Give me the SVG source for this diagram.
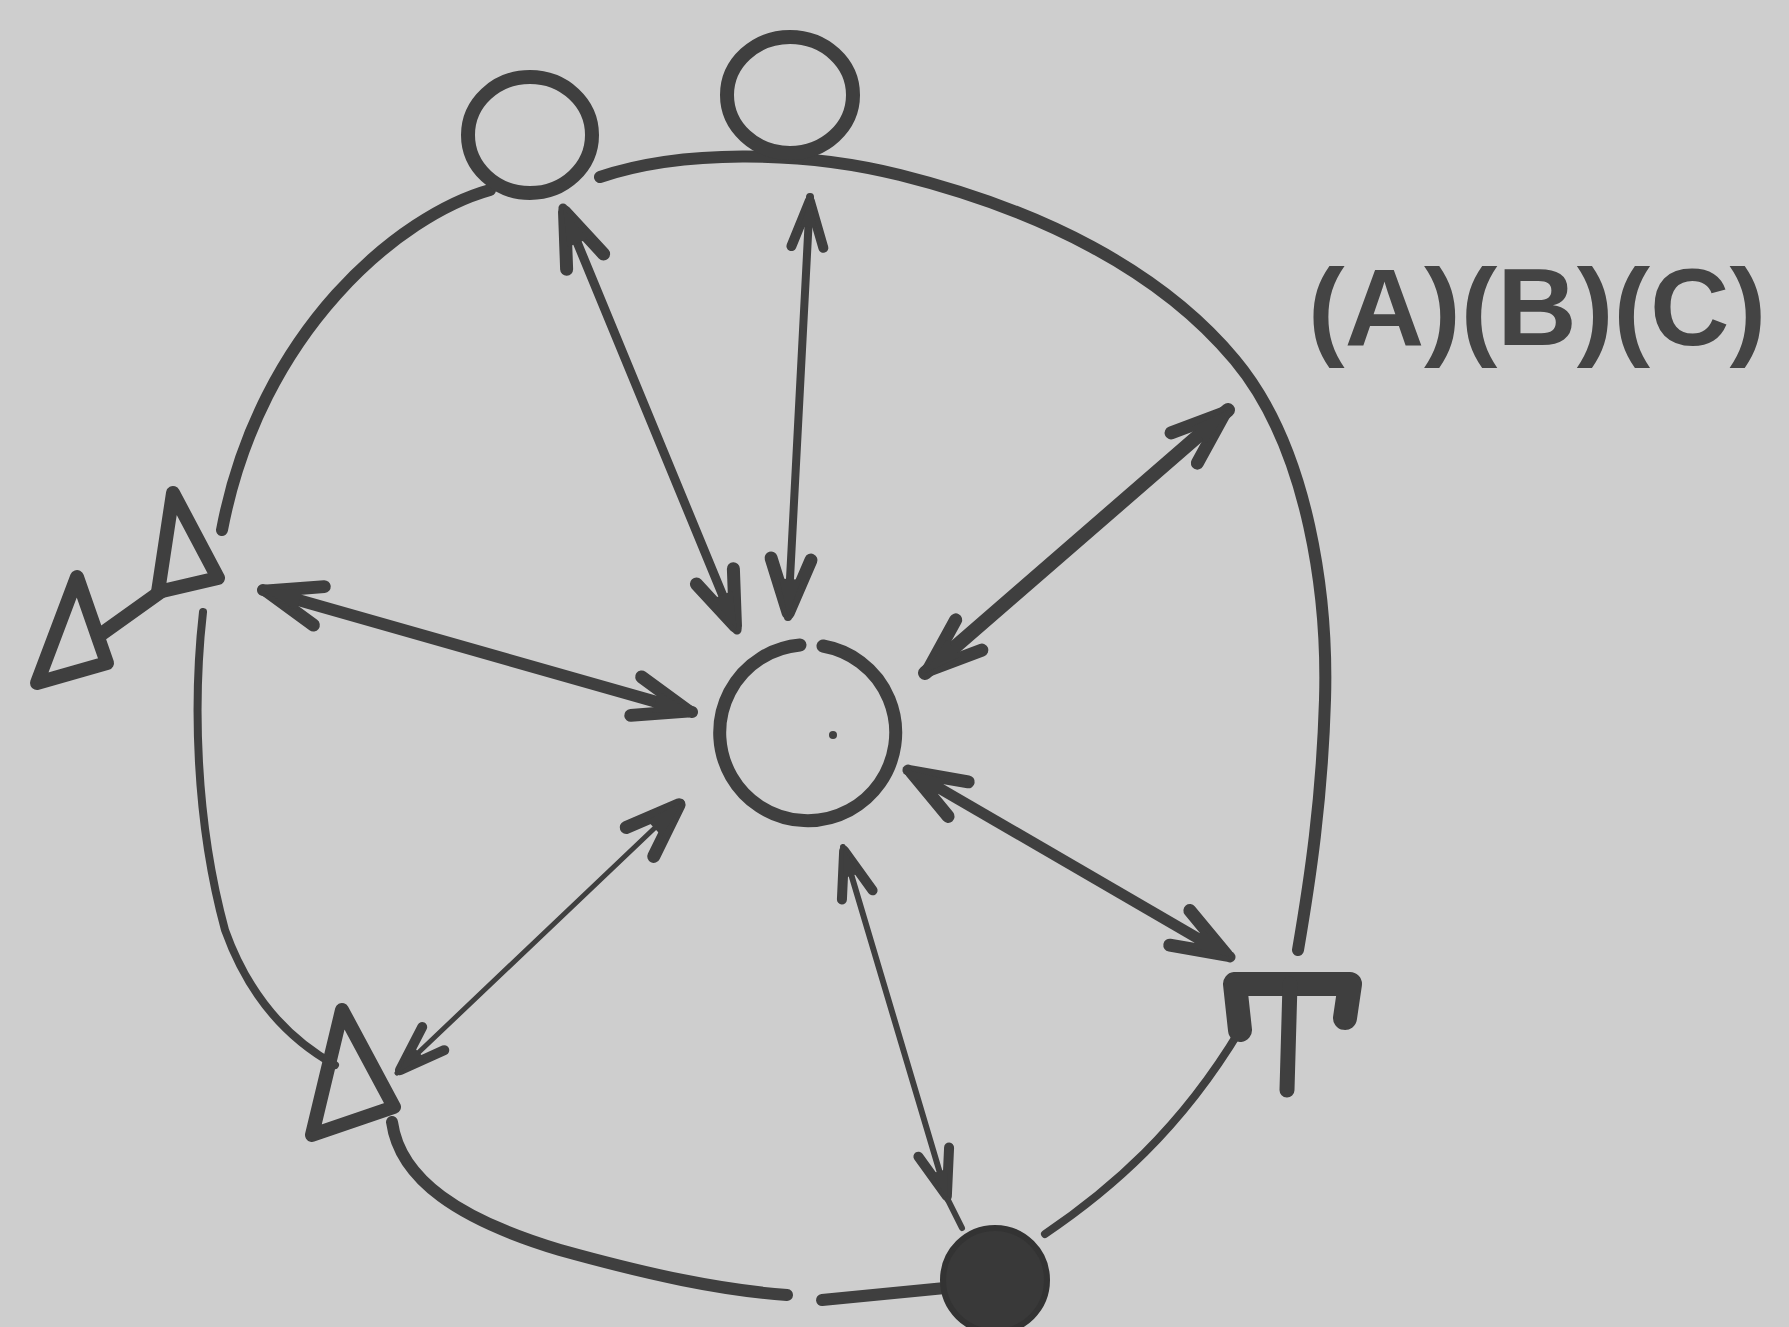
<svg xmlns="http://www.w3.org/2000/svg" width="1789" height="1327" viewBox="0 0 1789 1327">
<style>
.ln{fill:none;stroke:#3f3f3f;stroke-linecap:round;stroke-linejoin:round}
.lbl{font-family:"Liberation Sans",Arial,sans-serif;font-weight:bold;fill:#444}
</style>
<defs>
<marker id="ah" markerUnits="userSpaceOnUse" markerWidth="120" markerHeight="100" viewBox="-90 -50 120 100" refX="0" refY="0" orient="auto-start-reverse" overflow="visible">
<path d="M-58,-20 L-4,0 L-58,20" fill="none" stroke="#3f3f3f" stroke-width="13" stroke-linecap="round" stroke-linejoin="round"/>
<path d="M0,0 L-38,-11 L-38,11 Z" fill="#3f3f3f"/>
</marker>
<marker id="as" markerUnits="userSpaceOnUse" markerWidth="120" markerHeight="100" viewBox="-90 -50 120 100" refX="0" refY="0" orient="auto-start-reverse" overflow="visible">
<path d="M-50,-16 L-4,0 L-50,16" fill="none" stroke="#3f3f3f" stroke-width="10" stroke-linecap="round" stroke-linejoin="round"/>
<path d="M0,0 L-30,-8 L-30,8 Z" fill="#3f3f3f"/>
</marker>
</defs>
<rect width="1789" height="1327" fill="#cecece"/>

<g id="loop" class="ln">
<path d="M490,190 C400,215 260,330 222,530" stroke-width="12"/>
<path d="M600,177 C680,150 800,150 900,175 C1040,210 1160,270 1235,360 C1310,450 1328,600 1325,700 C1322,800 1310,880 1298,950" stroke-width="12"/>
<path d="M203,612 C193,700 195,820 225,930 C250,1000 290,1040 335,1065" stroke-width="8"/>
<path d="M392,1122 C400,1180 460,1220 560,1250 C650,1275 720,1290 787,1295" stroke-width="12"/>
<path d="M822,1300 L945,1288" stroke-width="12"/>
<path d="M1045,1234 C1110,1190 1180,1130 1240,1030" stroke-width="8"/>
</g>

<g id="connectors" class="ln">
<path d="M563,208 L737,630" stroke-width="9" marker-start="url(#ah)" marker-end="url(#ah)"/>
<path d="M810,197 L788,617" stroke-width="8" marker-start="url(#as)" marker-end="url(#ah)"/>
<path d="M1228,410 L925,673" stroke-width="14" marker-start="url(#ah)" marker-end="url(#ah)"/>
<path d="M263,590 L692,712" stroke-width="12" marker-start="url(#ah)" marker-end="url(#ah)"/>
<path d="M682,802 L397,1073" stroke-width="5" marker-start="url(#ah)" marker-end="url(#as)"/>
<path d="M843,847 L948,1200" stroke-width="6" marker-start="url(#as)" marker-end="url(#as)"/>
<path d="M948,1200 L962,1228" stroke-width="6"/>
<path d="M908,770 L1230,957" stroke-width="11" marker-start="url(#ah)" marker-end="url(#ah)"/>
</g>

<g id="node-top-left" class="ln">
<ellipse cx="530" cy="135" rx="62" ry="58" stroke-width="14"/>
</g>
<g id="node-top-right" class="ln">
<ellipse cx="790" cy="95" rx="63" ry="58" stroke-width="14"/>
</g>
<g id="node-center" class="ln">
<path d="M823,646 A88,88 0 1 1 800,645" stroke-width="13"/>
<circle cx="833" cy="735" r="4" fill="#3f3f3f" stroke="none"/>
</g>
<g id="node-triangles-left" class="ln">
<path d="M173,493 L158,592 L218,578 Z" stroke-width="14"/>
<path d="M77,577 L37,683 L107,663 Z" stroke-width="14"/>
<path d="M100,635 L163,590" stroke-width="14"/>
</g>
<g id="node-triangle-bottom" class="ln">
<path d="M342,1010 L312,1135 L394,1107 Z" stroke-width="14"/>
</g>
<g id="node-filled">
<circle cx="995" cy="1280" r="52" fill="#393939" stroke="#333" stroke-width="6"/>
</g>
<g id="node-T" class="ln">
<path d="M1240,1030 L1235,984 L1350,984 L1345,1018" stroke-width="24"/>
<path d="M1290,984 L1287,1090" stroke-width="15"/>
</g>
<g id="label">
<text class="lbl" x="1308" y="345" font-size="110">(A)(B)(C)</text>
</g>
</svg>
